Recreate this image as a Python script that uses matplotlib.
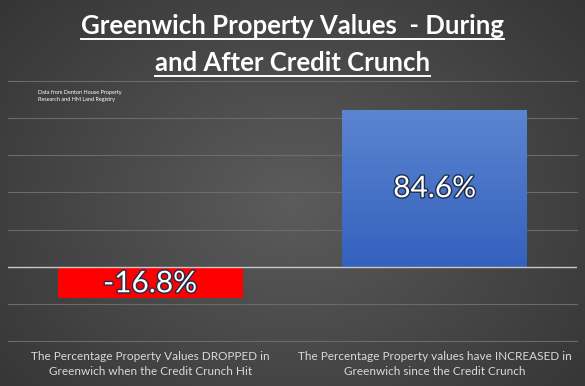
import numpy as np
import matplotlib
matplotlib.use("Agg")
import matplotlib.pyplot as plt
import matplotlib.patheffects as pe
from matplotlib.lines import Line2D

categories = ["The Percentage Property Values DROPPED in\nGreenwich when the Credit Crunch Hit",
              "The Percentage Property values have INCREASED in\nGreenwich since the Credit Crunch"]
values = [-16.8, 84.6]
labels = ["-16.8%", "84.6%"]
yticks = [-40, -20, 0, 20, 40, 60, 80, 100]

plt.rcParams['font.family'] = ['Lato', 'DejaVu Sans']

fig = plt.figure(figsize=(5.85, 3.86), dpi=100)

# background radial gradient
bg = fig.add_axes([0, 0, 1, 1])
yy, xx = np.mgrid[0:386, 0:585]
r = np.sqrt(((xx - 292) / 330.0) ** 2 + ((yy - 200) / 260.0) ** 2)
shade = np.clip(0.36 - 0.13 * r, 0.2, 0.36)
bg.imshow(np.dstack([shade] * 3), aspect="auto", extent=[0, 1, 0, 1])
bg.axis("off")

ax = fig.add_axes([8 / 585, 45 / 386, 569 / 585, 260 / 386])
ax.patch.set_alpha(0)
x = np.arange(len(values))
bars = ax.bar(x, values, width=0.65, color=["#ff0000", "#4472c4"], zorder=3)
ax.set_xlim(-0.5, 1.5)
ax.set_ylim(yticks[0], yticks[-1])
for yt in yticks:
    if yt != 0:
        ax.axhline(yt, color="#6b6b6b", linewidth=0.8, zorder=0, clip_on=False)
ax.axhline(0, color="#c8c8c8", linewidth=1, zorder=4)
ax.tick_params(left=False, bottom=False, labelleft=False, labelbottom=False)
for s in ax.spines.values():
    s.set_visible(False)

# gradient on the blue bar
b = bars[1]
grad = np.linspace(0, 1, 100).reshape(-1, 1)
top = np.array([0.36, 0.52, 0.82])
bot = np.array([0.20, 0.38, 0.74])
img = bot + (top - bot) * grad[..., None]
bx, bw = b.get_x(), b.get_width()
im = ax.imshow(img, extent=[bx, bx + bw, 0, values[1]], origin="lower",
               aspect="auto", zorder=3)
im.set_clip_path(b)

for i, (v, lab) in enumerate(zip(values, labels)):
    ax.text(i, v / 2 - (0.5 if v < 0 else 0), lab, ha="center", va="center",
            fontsize=21.5, color="white", zorder=5,
            path_effects=[pe.withStroke(linewidth=2, foreground="#1f2d4a")])
    ax.text(i, -45.5, categories[i], ha="center", va="top", fontsize=8.5,
            color="#d9d9d9", linespacing=1.4)

fig.text(38 / 585, 1 - 96 / 386, "Data from Denton House Property\nResearch and HM Land Registry",
         fontsize=4, color="white", va="center", ha="left", linespacing=1.3)

titles = ["Greenwich Property Values  - During", "and After Credit Crunch"]
tys = [1 - 34 / 386, 1 - 71 / 386]
txts = []
for t, ty in zip(titles, tys):
    txts.append(fig.text(0.5, ty, t, ha="center", va="baseline", fontsize=18.5,
                         fontweight="bold", color="white"))
fig.canvas.draw()
rend = fig.canvas.get_renderer()
for tx, ty in zip(txts, tys):
    bb = tx.get_window_extent(rend)
    x0, x1 = bb.x0 / 585, bb.x1 / 585
    fig.add_artist(Line2D([x0, x1], [ty - 5 / 386, ty - 5 / 386], color="white",
                          linewidth=1.4, transform=fig.transFigure))

fig.savefig("out.png", dpi=100)
